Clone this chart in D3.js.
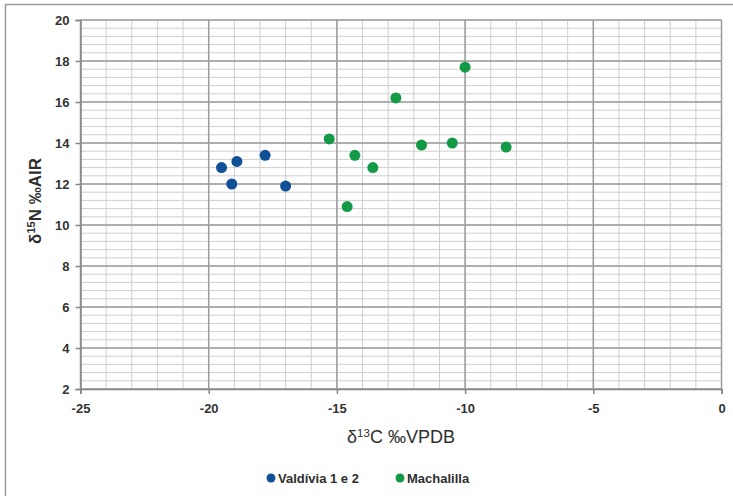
<!DOCTYPE html>
<html>
<head>
<meta charset="utf-8">
<script src="https://cdn.jsdelivr.net/npm/d3@7/dist/d3.min.js"></script>
<style>
  html, body { margin: 0; padding: 0; background: #fff; }
  svg { display: block; }
  .tick text { font-family: "Liberation Sans", Arial, sans-serif; font-weight: bold; font-size: 13px; fill: #333; }
</style>
</head>
<body>
<svg id="chart" width="733" height="496"></svg>
<script>
// Isotope values (δ13C ‰VPDB, δ15N ‰AIR) per site
const valdiviaC = [-19.5, -18.9, -19.1, -17.8, -17.0];
const valdiviaN = [12.8, 13.1, 12.0, 13.4, 11.9];
const machalillaC = [-15.3, -14.3, -13.6, -14.6, -12.7, -11.7, -10.5, -10.0, -8.4];
const machalillaN = [14.2, 13.4, 12.8, 10.9, 16.2, 13.9, 14.0, 17.7, 13.8];

const seriesNames = ["Valdívia 1 e 2", "Machalilla"];
const seriesColors = ["#0f5096", "#129a46"];

const xTicks = [-25, -20, -15, -10, -5, 0];
const yTicks = [2, 4, 6, 8, 10, 12, 14, 16, 18, 20];

const svg = d3.select("#chart");
const W = 733, H = 496;

// outer chart frame
svg.append("rect")
  .attr("x", 5.5).attr("y", 4.5)
  .attr("width", W + 10).attr("height", H + 10)
  .attr("fill", "#fff").attr("stroke", "#9a9a9a").attr("stroke-width", 1.5);

const x = d3.scaleLinear().domain([-25, 0]).range([80.5, 721.5]);
const y = d3.scaleLinear().domain([2, 20]).range([389, 20]);

const g = svg.append("g");

// minor gridlines
const xMinor = d3.range(-25, 1, 1);
const yMinor = d3.range(0, 46).map(i => 2 + i * 0.4);
g.selectAll(".vminor").data(xMinor).join("line")
  .attr("x1", d => x(d)).attr("x2", d => x(d))
  .attr("y1", y(20)).attr("y2", y(2))
  .attr("stroke", "#cfcfcf").attr("stroke-width", 1);
g.selectAll(".hminor").data(yMinor).join("line")
  .attr("x1", x(-25)).attr("x2", x(0))
  .attr("y1", d => y(d)).attr("y2", d => y(d))
  .attr("stroke", "#cfcfcf").attr("stroke-width", 1);

// major gridlines
g.selectAll(".vmajor").data(xTicks).join("line")
  .attr("x1", d => x(d)).attr("x2", d => x(d))
  .attr("y1", y(20)).attr("y2", y(2))
  .attr("stroke", "#9c9c9c").attr("stroke-width", 1.5);
g.selectAll(".hmajor").data(yTicks).join("line")
  .attr("x1", x(-25)).attr("x2", x(0))
  .attr("y1", d => y(d)).attr("y2", d => y(d))
  .attr("stroke", "#9c9c9c").attr("stroke-width", 1.5);

// axes (plain hyphen-minus labels)
const fmt = d => String(d);
const xAxis = svg.append("g")
  .attr("transform", `translate(0,${y(2)})`)
  .call(d3.axisBottom(x).tickValues(xTicks).tickFormat(fmt).tickSize(5).tickPadding(10));
const yAxis = svg.append("g")
  .attr("transform", `translate(${x(-25)},0)`)
  .call(d3.axisLeft(y).tickValues(yTicks).tickFormat(fmt).tickSize(5).tickPadding(6));
[xAxis, yAxis].forEach(a => {
  a.select(".domain").attr("stroke", "#868686").attr("stroke-width", 1.5);
  a.selectAll(".tick line").attr("stroke", "#868686").attr("stroke-width", 1.5);
});

// axis titles
svg.append("text")
  .attr("x", 401).attr("y", 443)
  .attr("text-anchor", "middle")
  .attr("font-family", "Liberation Sans, Arial, sans-serif")
  .attr("font-size", 18).attr("fill", "#2e2e2e")
  .html('δ<tspan font-size="11.5" dy="-6">13</tspan><tspan dy="6">C ‰VPDB</tspan>');

svg.append("text")
  .attr("transform", "translate(41,201) rotate(-90)")
  .attr("text-anchor", "middle")
  .attr("font-family", "Liberation Sans, Arial, sans-serif")
  .attr("font-weight", "bold")
  .attr("font-size", 17).attr("fill", "#2e2e2e")
  .html('δ<tspan font-size="11" dy="-6">15</tspan><tspan dy="6">N ‰AIR</tspan>');

// points
const series = [
  valdiviaC.map((c, i) => ({ c, n: valdiviaN[i] })),
  machalillaC.map((c, i) => ({ c, n: machalillaN[i] }))
];
series.forEach((pts, si) => {
  svg.append("g").selectAll("circle").data(pts).join("circle")
    .attr("cx", d => x(d.c)).attr("cy", d => y(d.n))
    .attr("r", 5.5).attr("fill", seriesColors[si]);
});

// legend
const legendX = [271, 400];
const legend = svg.append("g");
seriesNames.forEach((name, i) => {
  legend.append("circle").attr("cx", legendX[i]).attr("cy", 478).attr("r", 4.5).attr("fill", seriesColors[i]);
  legend.append("text")
    .attr("x", legendX[i] + 7).attr("y", 482.5)
    .attr("font-family", "Liberation Sans, Arial, sans-serif")
    .attr("font-weight", "bold").attr("font-size", 13).attr("fill", "#2e2e2e")
    .text(name);
});
</script>
</body>
</html>
